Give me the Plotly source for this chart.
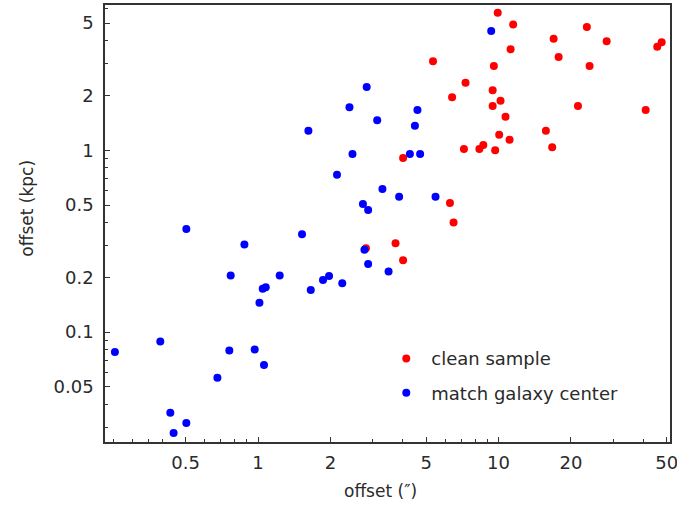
import plotly.graph_objects as go
import numpy as np

# clean sample (red)
clean_x = [5.34, 7.29, 6.41, 7.18, 8.32, 8.64, 9.68, 4.01, 6.28, 6.50,
           9.92, 11.5, 23.28, 16.94, 28.14, 11.22, 17.77, 47.64, 45.67, 9.56,
           23.9, 9.45, 10.19, 9.45, 21.38, 40.88, 10.69, 15.73, 10.06, 11.11,
           16.71, 2.81, 3.73, 4.01]
clean_y = [3.09, 2.35, 1.955, 1.017, 1.017, 1.069, 1.0, 0.907, 0.513, 0.401,
           5.70, 4.92, 4.76, 4.10, 3.97, 3.59, 3.26, 3.92, 3.71, 2.91,
           2.91, 2.14, 1.873, 1.752, 1.752, 1.665, 1.53, 1.281, 1.218, 1.144,
           1.039, 0.289, 0.308, 0.2487]

# match galaxy center (blue)
match_x = [9.32, 2.83, 2.40, 4.60, 3.13, 4.49, 1.62, 2.47, 4.28, 4.72,
           2.13, 3.29, 3.86, 5.47, 2.73, 2.87, 0.5036, 0.878, 0.770, 1.231,
           1.046, 1.077, 1.014, 0.3925, 0.2542, 0.760, 0.969, 1.059, 0.678, 0.432,
           0.5036, 0.4458, 1.524, 1.657, 1.863, 1.974, 2.24, 2.77, 2.87, 3.49]
match_y = [4.52, 2.23, 1.723, 1.665, 1.461, 1.365, 1.281, 0.954, 0.954, 0.954,
           0.734, 0.613, 0.556, 0.556, 0.507, 0.470, 0.3695, 0.303, 0.2046, 0.2046,
           0.173, 0.1768, 0.1449, 0.0888, 0.0777, 0.0792, 0.0802, 0.0661, 0.0561, 0.0361,
           0.0317, 0.0279, 0.3455, 0.1708, 0.1938, 0.2039, 0.1859, 0.2843, 0.2373, 0.2153]

x_ticks = [0.5, 1, 2, 5, 10, 20, 50]
x_tick_labels = ["0.5", "1", "2", "5", "10", "20", "50"]
x_minor = [0.25, 0.3, 0.35, 0.4, 0.6, 0.7, 0.8, 0.9, 3, 4, 6, 7, 8, 9, 30, 40]
y_ticks = [0.05, 0.1, 0.2, 0.5, 1, 2, 5]
y_tick_labels = ["0.05", "0.1", "0.2", "0.5", "1", "2", "5"]
y_minor = [0.03, 0.04, 0.06, 0.07, 0.08, 0.09, 0.3, 0.4, 0.6, 0.7, 0.8, 0.9, 3, 4, 6]

x_title = "offset (″)"
y_title = "offset (kpc)"

FONT = "DejaVu Sans"
AX = "#333333"
TXT = "#2a2a2a"

fig = go.Figure()
fig.add_trace(go.Scatter(x=clean_x, y=clean_y, mode="markers", name="clean sample",
                         legendgroup="a",
                         marker=dict(color="#ff0000", size=8)))
fig.add_trace(go.Scatter(x=match_x, y=match_y, mode="markers", name="match galaxy center",
                         legendgroup="b",
                         marker=dict(color="#0000ff", size=8)))

axis_common = dict(type="log", showgrid=False, zeroline=False, showline=True,
                   linecolor=AX, linewidth=1.5, mirror=True, automargin=False,
                   ticks="inside", ticklen=5, tickcolor=AX, tickwidth=1,
                   ticklabeloverflow="allow",
                   tickfont=dict(family=FONT, size=18, color=TXT))

fig.update_xaxes(**axis_common, range=[np.log10(0.2312), np.log10(51.6)],
                 tickvals=x_ticks, ticktext=x_tick_labels, ticklabelstandoff=4,
                 minor=dict(ticks="inside", ticklen=3, tickcolor=AX, tickwidth=1,
                            tickmode="array", tickvals=x_minor, showgrid=False))
fig.update_yaxes(**axis_common, range=[np.log10(0.0249), np.log10(6.29)],
                 tickvals=y_ticks, ticktext=y_tick_labels, ticklabelstandoff=6,
                 minor=dict(ticks="inside", ticklen=3, tickcolor=AX, tickwidth=1,
                            tickmode="array", tickvals=y_minor, showgrid=False))

# axis titles as annotations (positioned like the reference)
fig.add_annotation(text=x_title, xref="paper", yref="paper", x=0.487, y=-0.113,
                   xanchor="center", yanchor="middle", showarrow=False,
                   font=dict(family=FONT, size=17, color=TXT))
fig.add_annotation(text=y_title, xref="paper", yref="paper", x=-0.138, y=0.534,
                   xanchor="center", yanchor="middle", showarrow=False, textangle=-90,
                   font=dict(family=FONT, size=17, color=TXT))

fig.update_layout(width=677, height=512,
                  margin=dict(l=105, r=7, t=5, b=70),
                  paper_bgcolor="white", plot_bgcolor="white",
                  showlegend=True,
                  legend=dict(x=0.489, y=0.233, xanchor="left", yanchor="top",
                              bgcolor="rgba(0,0,0,0)", tracegroupgap=8, itemwidth=40,
                              font=dict(family=FONT, size=18, color=TXT)))

fig.write_html("out.html", config={"displayModeBar": False},
               post_script="document.body.style.margin='0px';")
